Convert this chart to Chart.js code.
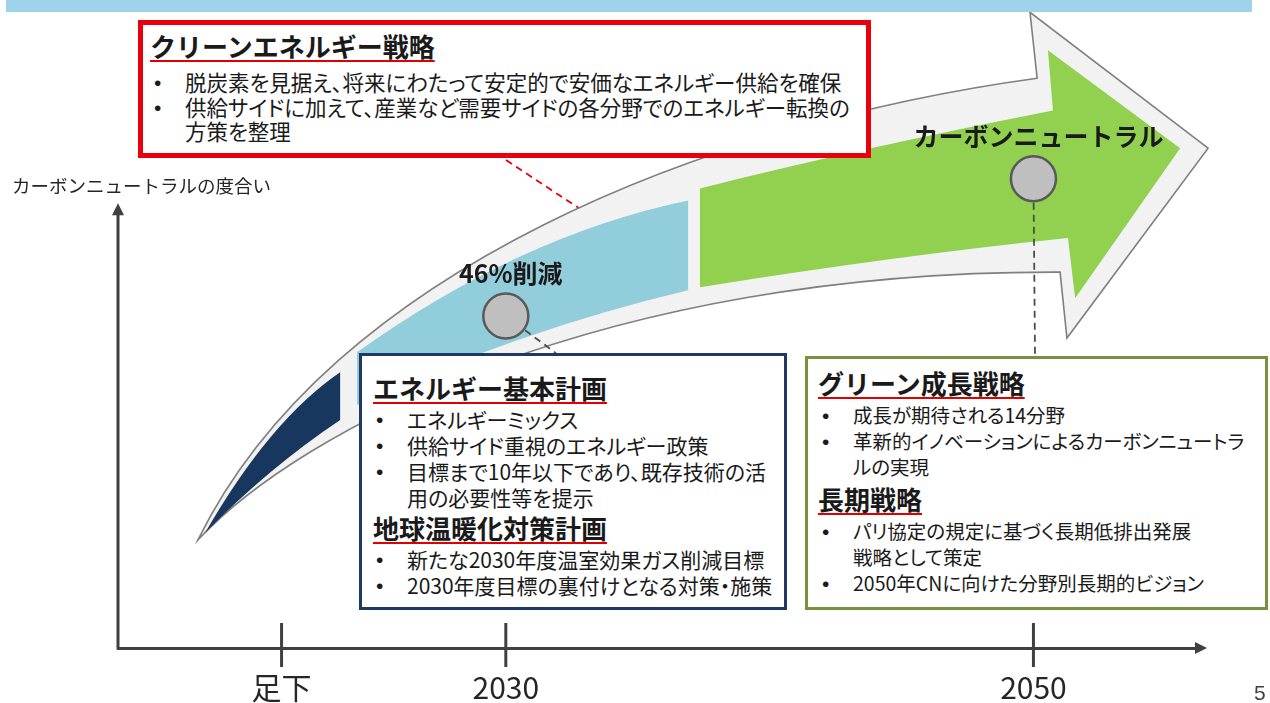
<!DOCTYPE html>
<html lang="ja">
<head>
<meta charset="utf-8">
<title>カーボンニュートラルの度合い</title>
<script src="https://cdn.jsdelivr.net/npm/chart.js@4.4.1/dist/chart.umd.min.js"></script>
<style>
  html, body { margin: 0; padding: 0; background: #fff; }
  body { width: 1270px; height: 703px; overflow: hidden; font-family: "Noto Sans CJK JP", "Noto Sans", sans-serif; color: #1a1a1a; }
  #stage { position: relative; width: 1270px; height: 703px; }
  #cv { position: absolute; left: 0; top: 0; }
  .banner { position: absolute; left: 6px; top: 0; width: 1246px; height: 12px; background: #9fd3e9; }
  .axis-title { position: absolute; left: 12px; top: 174px; font-size: 18.5px; line-height: 22px; color: #262626; white-space: nowrap; }
  .page-no { position: absolute; left: 1254px; top: 682px; font-size: 21px; line-height: 21px; color: #404040; font-family: "Liberation Sans", sans-serif; }
  .box { position: absolute; background: #fff; box-sizing: border-box; }
  .box ul { list-style: none; margin: 0; padding: 0; }
  .box li { position: relative; white-space: nowrap; }
  .box li::before { content: "•"; position: absolute; left: -31px; top: 1px; font-family: "Liberation Sans", sans-serif; font-size: 21px; }
  .ttl { font-weight: bold; font-size: 26px; white-space: nowrap; text-decoration: underline; text-decoration-color: #e00000; text-decoration-thickness: 2px; text-underline-offset: 3px; }

  .red { left: 138px; top: 20px; width: 733px; height: 138px; border: 5px solid #e8000d; padding-left: 7px; }
  .red .ttl { line-height: 42px; }
  .red ul { margin-top: 3px; padding-left: 35px; font-size: 21.5px; line-height: 24.5px; font-feature-settings: "palt"; }

  .navy { left: 359px; top: 353px; width: 428px; height: 257px; border: 3px solid #203864; padding: 14px 0 0 11px; }
  .navy .ttl { line-height: 36px; }
  .navy ul { padding-left: 34px; font-size: 21px; line-height: 26px; font-feature-settings: "palt"; }

  .green { left: 805px; top: 356px; width: 463px; height: 254px; border: 3px solid #76923c; padding: 5px 0 0 10px; }
  .green .ttl { line-height: 38px; }
  .green ul { padding-left: 35px; font-size: 19.5px; line-height: 26px; font-feature-settings: "palt"; }
</style>
</head>
<body>
<div id="stage">
  <canvas id="cv" width="1270" height="703"></canvas>
  <div class="banner"></div>
  <div class="axis-title">カーボンニュートラルの度合い</div>

  <div class="box red">
    <div class="ttl">クリーンエネルギー戦略</div>
    <ul>
      <li>脱炭素を見据え、将来にわたって安定的で安価なエネルギー供給を確保</li>
      <li>供給サイドに加えて、産業など需要サイドの各分野でのエネルギー転換の<br>方策を整理</li>
    </ul>
  </div>

  <div class="box navy">
    <div class="ttl">エネルギー基本計画</div>
    <ul>
      <li>エネルギーミックス</li>
      <li>供給サイド重視のエネルギー政策</li>
      <li>目標まで10年以下であり、既存技術の活<br>用の必要性等を提示</li>
    </ul>
    <div class="ttl">地球温暖化対策計画</div>
    <ul>
      <li>新たな2030年度温室効果ガス削減目標</li>
      <li>2030年度目標の裏付けとなる対策・施策</li>
    </ul>
  </div>

  <div class="box green">
    <div class="ttl">グリーン成長戦略</div>
    <ul>
      <li>成長が期待される14分野</li>
      <li>革新的イノベーションによるカーボンニュートラ<br>ルの実現</li>
    </ul>
    <div class="ttl">長期戦略</div>
    <ul>
      <li>パリ協定の規定に基づく長期低排出発展<br>戦略として策定</li>
      <li>2050年CNに向けた分野別長期的ビジョン</li>
    </ul>
  </div>

  <div class="page-no">5</div>
</div>

<script>
// time axis
const periodLabels = ['足下', '2030', '2050'];
const periodYears = [2021.5, 2030, 2050];
const axisTopDegree = 100;   // where the drawn y axis stops

// milestones on the arrow (degree of carbon neutrality)
const milestoneYears = [2030, 2050];
const milestoneDegree = [75, 106];
const milestoneLabels = ['46%削減', 'カーボンニュートラル'];

// big curved arrow, in axis units (year, degree)
const arrowPath = [
  ['M', [2018.33, 24.4]],
  ['C', [2023.34, 85.3], [2037.63, 118.5], [2050.14, 128.7]],
  ['L', [2049.87, 143.6]],
  ['L', [2056.62, 112.9]],
  ['L', [2051.27, 70.0]],
  ['L', [2051.01, 84.9]],
  ['C', [2033.57, 85.3], [2022.2, 49.2], [2018.33, 24.4]]
];
const navyBand = [
  ['M', [2023.72, 62.3]],
  ['Q', [2021.06, 51.5], [2018.6, 26.0]],
  ['Q', [2020.99, 40.6], [2023.72, 51.5]]
];
const blueBand = [
  ['M', [2024.36, 66.8]],
  ['Q', [2030.54, 93.2], [2036.91, 101.1]],
  ['L', [2036.91, 80.8]],
  ['Q', [2030.54, 71.8], [2024.36, 54.9]]
];
const greenBand = [
  ['M', [2037.36, 103.8]],
  ['Q', [2043.05, 112.4], [2050.74, 121.4]],
  ['L', [2050.55, 135.0]],
  ['L', [2055.56, 112.9]],
  ['L', [2051.58, 79.0]],
  ['L', [2051.31, 92.6]],
  ['Q', [2044.94, 88.7], [2037.36, 81.5]]
];
// dashed leaders from the milestones / red box
const redLeader = [[2030.01, 110.2], [2033.19, 97.7]];
const leaders = [[[2030, 75], [2031.9, 66.6]], [[2050, 106], [2050.06, 66.0]]];

const FONT = '"Noto Sans CJK JP", "Noto Sans", sans-serif';

function px(chart, pt) {
  return [chart.scales.x.getPixelForValue(pt[0]), chart.scales.y.getPixelForValue(pt[1])];
}

function tracePath(chart, ctx, path) {
  ctx.beginPath();
  path.forEach(seg => {
    const pts = seg.slice(1).map(p => px(chart, p));
    if (seg[0] === 'M') ctx.moveTo(...pts[0]);
    else if (seg[0] === 'L') ctx.lineTo(...pts[0]);
    else if (seg[0] === 'Q') ctx.quadraticCurveTo(...pts[0], ...pts[1]);
    else if (seg[0] === 'C') ctx.bezierCurveTo(...pts[0], ...pts[1], ...pts[2]);
  });
  ctx.closePath();
}

function dashed(chart, ctx, a, b, color) {
  const p = px(chart, a), q = px(chart, b);
  ctx.save();
  ctx.strokeStyle = color;
  ctx.lineWidth = 1.8;
  ctx.setLineDash([7, 5]);
  ctx.beginPath();
  ctx.moveTo(...p);
  ctx.lineTo(...q);
  ctx.stroke();
  ctx.restore();
}

const diagramPlugin = {
  id: 'diagram',
  beforeDatasetsDraw(chart) {
    const ctx = chart.ctx;
    dashed(chart, ctx, redLeader[0], redLeader[1], '#e8000d');

    ctx.save();
    tracePath(chart, ctx, arrowPath);
    ctx.fillStyle = '#f2f2f2';
    ctx.fill();
    ctx.strokeStyle = '#7f7f7f';
    ctx.lineWidth = 1.6;
    ctx.stroke();
    [[navyBand, '#17375e'], [blueBand, '#92cddc'], [greenBand, '#92d050']].forEach(([p, c]) => {
      tracePath(chart, ctx, p);
      ctx.fillStyle = c;
      ctx.fill();
    });
    ctx.restore();

    leaders.forEach(l => dashed(chart, ctx, l[0], l[1], '#4d4d4d'));
  },
  afterDatasetsDraw(chart) {
    const ctx = chart.ctx;
    const meta = chart.getDatasetMeta(0);
    ctx.save();
    ctx.font = 'bold 25px ' + FONT;
    ctx.fillStyle = '#1a1a1a';
    ctx.textAlign = 'center';
    ctx.textBaseline = 'middle';
    meta.data.forEach((pt, i) => {
      ctx.fillText(milestoneLabels[i], pt.x + 5, pt.y - 42);
    });
    ctx.restore();
  },
  afterDraw(chart) {
    const ctx = chart.ctx;
    const {left, right, bottom} = chart.chartArea;
    const xs = chart.scales.x, ys = chart.scales.y;
    const yTop = ys.getPixelForValue(axisTopDegree);
    ctx.save();
    ctx.strokeStyle = '#404040';
    ctx.fillStyle = '#404040';
    ctx.lineWidth = 3;
    // y axis line up to the arrow head
    ctx.beginPath();
    ctx.moveTo(left, ys.getPixelForValue(0) + 1.5);
    ctx.lineTo(left, yTop + 4);
    ctx.stroke();
    xs.ticks.forEach(t => {
      const x = xs.getPixelForValue(t.value);
      ctx.beginPath();
      ctx.moveTo(x, bottom - 25);
      ctx.lineTo(x, bottom + 19);
      ctx.stroke();
    });
    // axis arrow heads
    ctx.beginPath();
    ctx.moveTo(left, yTop - 2);
    ctx.lineTo(left - 6, yTop + 10);
    ctx.lineTo(left + 6, yTop + 10);
    ctx.closePath();
    ctx.fill();
    ctx.beginPath();
    ctx.moveTo(right + 10, bottom);
    ctx.lineTo(right - 2, bottom - 6);
    ctx.lineTo(right - 2, bottom + 6);
    ctx.closePath();
    ctx.fill();
    ctx.restore();
  }
};

new Chart(document.getElementById('cv'), {
  type: 'scatter',
  data: {
    datasets: [{
      data: milestoneYears.map((x, i) => ({x: x, y: milestoneDegree[i]})),
      pointRadius: 22.5,
      pointHoverRadius: 22.5,
      backgroundColor: '#bfbfbf',
      borderColor: '#595959',
      borderWidth: 2.5,
      clip: false
    }]
  },
  options: {
    responsive: false,
    animation: false,
    devicePixelRatio: 1,
    events: [],
    layout: { autoPadding: false, padding: { left: 118, right: 73, top: 161, bottom: -25 } },
    plugins: { legend: { display: false }, tooltip: { enabled: false } },
    scales: {
      x: {
        type: 'linear',
        min: 2015.3,
        max: 2056.2,
        grid: { display: false, drawTicks: false },
        border: { color: '#404040', width: 3 },
        afterBuildTicks: s => { s.ticks = periodYears.map(v => ({ value: v })); },
        ticks: {
          padding: 25,
          color: '#262626',
          maxRotation: 0,
          autoSkip: false,
          font: { family: FONT, size: 30, lineHeight: 1 },
          callback: v => {
            const i = periodYears.indexOf(v);
            return i < 0 ? '' : periodLabels[i];
          }
        }
      },
      y: {
        min: 0,
        max: 110,
        grid: { display: false, drawTicks: false },
        border: { display: false },
        ticks: { display: false }
      }
    }
  },
  plugins: [diagramPlugin]
});
</script>
</body>
</html>
